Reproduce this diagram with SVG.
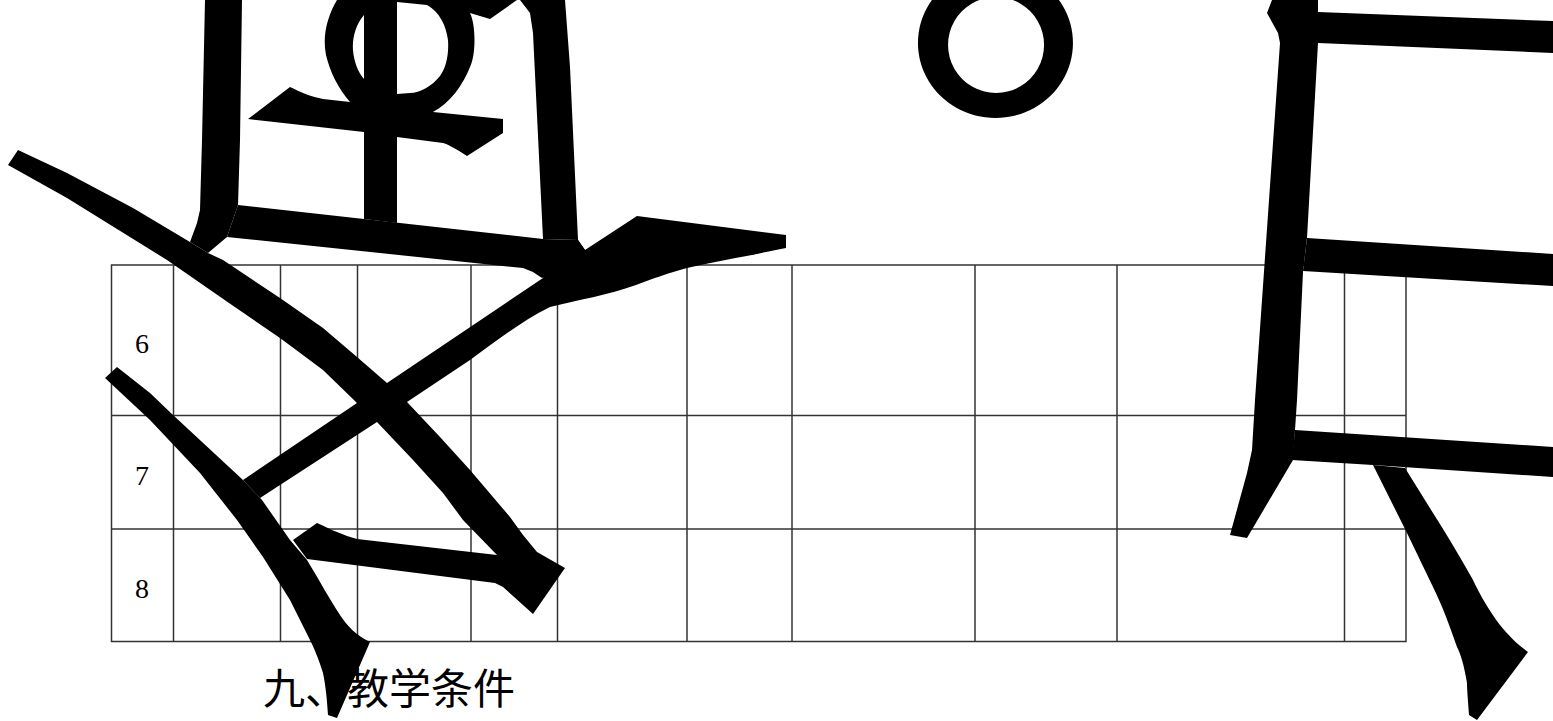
<svg xmlns="http://www.w3.org/2000/svg" width="1553" height="721" viewBox="0 0 1553 721">
<style>
.grid{stroke:#333;stroke-width:1.5;fill:none}
.num{font-family:"Liberation Serif","Times New Roman",serif;font-size:28px;fill:#000;text-anchor:middle}
.title{font-family:"Noto Sans CJK SC","Noto Sans",sans-serif;font-size:42px;fill:#000}
.ink{fill:#000;stroke:none}
</style>
<rect width="1553" height="721" fill="#fff"/>
<g id="table">
<rect class="grid" x="111.5" y="265" width="1294.5" height="376.5"/>
<line class="grid" x1="111.5" y1="415.5" x2="1406" y2="415.5"/>
<line class="grid" x1="111.5" y1="529" x2="1406" y2="529"/>
<line class="grid" x1="173.5" y1="265" x2="173.5" y2="641.5"/>
<line class="grid" x1="280.5" y1="265" x2="280.5" y2="641.5"/>
<line class="grid" x1="357.5" y1="265" x2="357.5" y2="641.5"/>
<line class="grid" x1="471" y1="265" x2="471" y2="641.5"/>
<line class="grid" x1="557.5" y1="265" x2="557.5" y2="641.5"/>
<line class="grid" x1="687" y1="265" x2="687" y2="641.5"/>
<line class="grid" x1="792" y1="265" x2="792" y2="641.5"/>
<line class="grid" x1="975" y1="265" x2="975" y2="641.5"/>
<line class="grid" x1="1117" y1="265" x2="1117" y2="641.5"/>
<line class="grid" x1="1344.5" y1="265" x2="1344.5" y2="641.5"/>
</g>
<g id="row-labels">
<text class="num" x="142" y="353">6</text>
<text class="num" x="142" y="485">7</text>
<text class="num" x="142" y="598">8</text>
</g>
<g id="heading">
<text class="title" x="263" y="704">九、教学条件</text>
</g>
<g id="shape-left">
<path class="ink" d="M205,0 L242,0 L240,140 L238,205 L227,237 L208,253 L190,242 L197,223 L200,210 L202,140 Z"/>
<path class="ink" d="M520,0 L565,0 L570,67 L578,240 L543,239 L533,33 L530,13 Z"/>
<path class="ink" d="M238,205 L543,239 L578,240 L585,250 L560,268 L542,278 L533,272 L523,268 L227,237 Z"/>
<path class="ink" fill-rule="evenodd" d="M337,0 L517,0 L490,19 L470,13 C476,25 476,55 470,67 C463,85 450,103 433,112 L503,119 L503,133 L467,156 C455,148 447,144 443,143 L397,137 L397,223 L364,219 L364,132 L248,119 L290,87 C300,92 312,97 323,99 L350,102 C338,88 330,72 326,55 C322,35 328,15 337,0 Z M364,15 C356,24 352,38 353,50 C354,62 358,72 364,79 Z M397,2 L427,5 C440,12 446,26 448,40 C449,55 446,68 440,76 C432,86 420,93 410,93 L397,94 Z"/>
<path class="ink" d="M578,240 L585,250 L637,216 L786,235 L786,248 C770,251 752,255 752,255 C730,259 708,263 687,268 C668,273 652,279 636,285 C608,295 578,300 550,307 C520,322 495,342 470,360 L407,402 L377,422 L260,498 L243,480 L357,403 L387,383 L543,278 L548,262 Z"/>
<path class="ink" d="M18,150 L67,173 L133,208 L190,242 L208,253 L223,260 L280,298 L323,328 L357,357 L387,383 L407,402 L440,437 L470,470 L510,517 L523,535 L537,552 L565,568 L533,614 L503,587 L495,583 L307,559 L293,540 L317,523 C325,526 331,530 337,532 C344,535 350,537 357,539 L497,555 L463,520 L443,493 L413,460 L377,422 L357,403 L323,370 L280,338 L229,303 L167,260 L67,198 L8,165 Z"/>
<path class="ink" d="M105,378 L117,367 L150,393 L173,415 L243,480 L262,500 L290,540 L307,560 C318,578 330,600 340,615 C347,626 357,636 370,642 L337,718 L328,715 C327,700 326,688 323,673 C319,660 315,650 310,640 L290,600 L263,557 L237,520 L200,473 L150,420 Z"/>
</g>
<g id="shape-ring">
<path class="ink" fill-rule="evenodd" d="M995.5,-32 A77.5,75 0 1 1 995.4,-32 Z M996,-3 A48,48 0 1 0 996.1,-3 Z"/>
</g>
<g id="shape-right">
<path class="ink" d="M1272,0 L1318,0 L1318,43 L1307,238 L1303,272 L1297,400 L1295,430 L1293,460 L1247,538 L1230,535 L1247,473 L1252,450 L1255,400 L1280,43 L1278,33 L1267,13 Z"/>
<path class="ink" d="M1318,12 L1553,21 L1553,53 L1318,43 Z"/>
<path class="ink" d="M1307,238 L1553,254 L1553,286 L1303,271 Z"/>
<path class="ink" d="M1295,430 L1553,447 L1553,477 L1373,465 L1292,460 Z"/>
<path class="ink" d="M1373,465 L1405,468 L1433,513 C1450,540 1462,560 1473,580 C1480,595 1490,612 1500,625 C1508,635 1518,645 1528,652 L1477,720 L1469,715 C1468,700 1467,690 1467,683 C1464,665 1461,655 1457,647 C1450,627 1442,605 1433,587 L1407,533 Z"/>
</g>
</svg>
